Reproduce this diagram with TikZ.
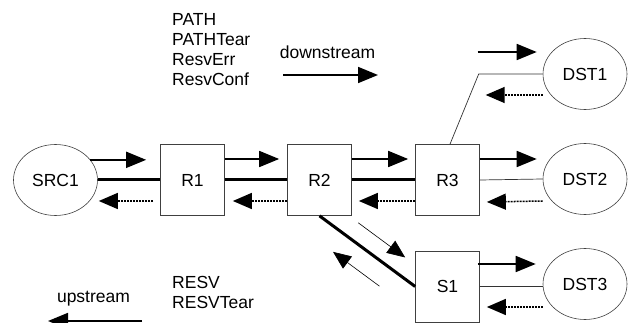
\documentclass[tikz,border=0pt]{standalone}
\usepackage{fontspec}
\setmainfont{Liberation Sans}
\usetikzlibrary{arrows.meta,calc,shapes.geometric}
\begin{document}
\begin{tikzpicture}[x=1pt,y=-1pt,
  every node/.style={font=\fontsize{17.5}{20}\selectfont},
  ell/.style={ellipse,draw=black!75,line width=0.6pt,minimum width=84pt,minimum height=71pt,inner sep=0pt},
  rbox/.style={rectangle,draw=black!75,line width=0.7pt,minimum width=64pt,minimum height=71pt,inner sep=0pt},
  fwd/.style={line width=1.8pt,-{Triangle[length=20pt,width=16pt]}},
  bwd/.style={line width=1.5pt,dash pattern=on 2pt off 1pt,-{Triangle[length=19pt,width=16pt]}},
  thin arrow/.style={line width=0.6pt,-{Triangle[length=18pt,width=15pt]}},
  biglink/.style={line width=3pt},
  smalllink/.style={line width=0.7pt,draw=black!80},
  txt/.style={inner sep=0pt}]
\useasboundingbox (0,0) rectangle (632,323);

% nodes
\node[ell] (SRC1) at (55.5,180) {SRC1};
\node[rbox] (R1) at (192.5,180) {R1};
\node[rbox] (R2) at (319.5,180) {R2};
\node[rbox] (R3) at (447.5,180) {R3};
\node[rbox] (S1) at (447.5,286.5) {S1};
\node[ell] (DST1) at (585,74) {DST1};
\node[ell] (DST2) at (585,179) {DST2};
\node[ell] (DST3) at (585,284) {DST3};

% legend texts
\node[txt,anchor=north west,align=left] (pathlist) at (172,13) {PATH\\PATHTear\\ResvErr\\ResvConf};
\node[txt,anchor=base] (down) at (327.5,59) {downstream};
\node[txt,anchor=north west,align=left] (resvlist) at (172,276) {RESV\\RESVTear};
\node[txt,anchor=base] (up) at (93.5,302) {upstream};
\coordinate (dsA) at (283,75);
\coordinate (dsB) at (378,75);
\coordinate (usA) at (142,321);
\coordinate (usB) at (48,321);
\draw[fwd] (dsA) -- (dsB);
\draw[fwd] (usA) -- (usB);

% links
\draw[biglink] (SRC1.east) -- (R1.west);
\draw[biglink] (R1.east) -- (R2.west);
\draw[biglink] (R2.east) -- (R3.west);
\draw[smalllink] (R3.east) -- (DST2.west);
\draw[smalllink] (DST1.west) -- ($(DST1.west)+(-64,0)$) -- ($(R3.north)+(2.5,0)$);
\draw[smalllink] (S1.east) -- (DST3.west |- S1.east);
\draw[biglink] (R2.south) -- (S1.west);

% downstream arrows
\coordinate (t1) at ($(R1.west)+(-14,0)$);
\draw[fwd] (SRC1.30) -- (t1 |- SRC1.30);
\draw[fwd] ($(R1.east)+(0,-21)$) -- ($(R2.west)+(-8,-21)$);
\draw[fwd] ($(R2.east)+(0,-21)$) -- ($(R3.west)+(-7,-21)$);
\draw[fwd] ($(R3.east)+(0,-21)$) -- ($(DST2.west)+(-6,-20)$);
\draw[fwd] ($(DST1.west)+(-65,-22)$) -- ($(DST1.west)+(-6,-22)$);
\draw[fwd] ($(S1.east)+(-2,-22.5)$) -- ($(DST3.west)+(-7,-20)$);

% upstream dotted arrows
\draw[bwd] ($(R1.west)+(-7,21)$) -- ($(SRC1.east)+(1,21)$);
\draw[bwd] ($(R2.west)+(0,21)$) -- ($(R1.east)+(8,21)$);
\draw[bwd] ($(R3.west)+(0,21)$) -- ($(R2.east)+(7,21)$);
\draw[bwd] ($(DST2.west)+(0,22)$) -- ($(R3.east)+(7,22)$);
\draw[bwd] ($(DST1.west)+(0,21)$) -- ($(DST1.west)+(-57,21)$);
\draw[bwd] ($(DST3.west)+(0,23)$) -- ($(S1.east)+(7,20.5)$);

% diagonal arrows
\draw[thin arrow] ($(R2.south)!0.296!(S1.west)+(10.4,-14)$) -- ($(R2.south)!0.787!(S1.west)+(10.4,-14)$);
\draw[thin arrow] ($(R2.south)!0.757!(S1.west)+(-12.5,16.8)$) -- ($(R2.south)!0.272!(S1.west)+(-12.5,16.8)$);
\end{tikzpicture}
\end{document}
